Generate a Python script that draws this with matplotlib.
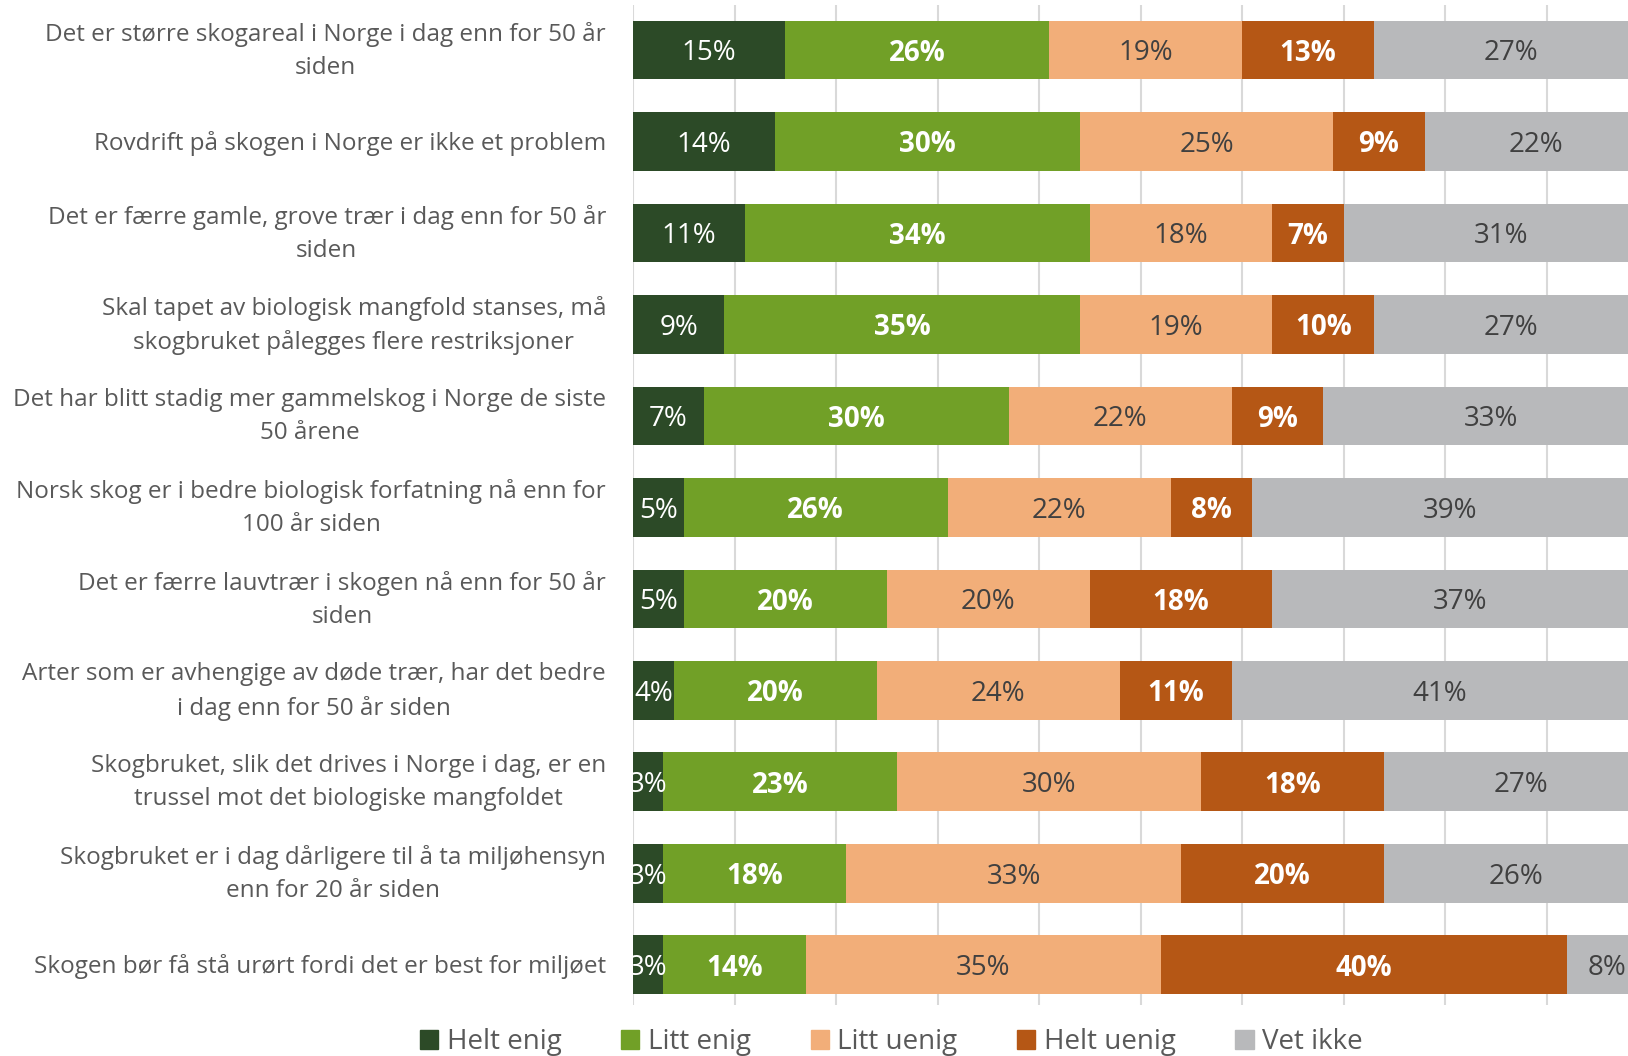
import numpy as np
import matplotlib.pyplot as plt
from matplotlib.patches import Patch
from matplotlib.transforms import ScaledTranslation

plt.rcParams['font.family'] = ['Open Sans', 'DejaVu Sans']

statements = [
    "Det er større skogareal i Norge i dag enn for 50 år\nsiden",
    "Rovdrift på skogen i Norge er ikke et problem",
    "Det er færre gamle, grove trær i dag enn for 50 år\nsiden",
    "Skal tapet av biologisk mangfold stanses, må\nskogbruket pålegges flere restriksjoner",
    "Det har blitt stadig mer gammelskog i Norge de siste\n50 årene",
    "Norsk skog er i bedre biologisk forfatning nå enn for\n100 år siden",
    "Det er færre lauvtrær i skogen nå enn for 50 år\nsiden",
    "Arter som er avhengige av døde trær, har det bedre\ni dag enn for 50 år siden",
    "Skogbruket, slik det drives i Norge i dag, er en\ntrussel mot det biologiske mangfoldet",
    "Skogbruket er i dag dårligere til å ta miljøhensyn\nenn for 20 år siden",
    "Skogen bør få stå urørt fordi det er best for miljøet",
]

answers = ["Helt enig", "Litt enig", "Litt uenig", "Helt uenig", "Vet ikke"]

helt_enig = [15, 14, 11, 9, 7, 5, 5, 4, 3, 3, 3]
litt_enig = [26, 30, 34, 35, 30, 26, 20, 20, 23, 18, 14]
litt_uenig = [19, 25, 18, 19, 22, 22, 20, 24, 30, 33, 35]
helt_uenig = [13, 9, 7, 10, 9, 8, 18, 11, 18, 20, 40]
vet_ikke = [27, 22, 31, 27, 33, 39, 37, 41, 27, 26, 8]

colors = ["#2c4a27", "#71a027", "#f2ae79", "#b55715", "#b8b9bb"]
label_colors = ["white", "white", "#404040", "white", "#404040"]
label_weights = ["normal", "bold", "normal", "bold", "normal"]

series = [helt_enig, litt_enig, litt_uenig, helt_uenig, vet_ikke]

fig = plt.figure(figsize=(16.28, 10.56), dpi=100)
# axes runs past the right edge of the figure, like the original export
ax = fig.add_axes([633 / 1628, 51 / 1056, 1015 / 1628, 1000 / 1056])

y = np.arange(len(statements))
left = np.zeros(len(statements))
for vals, col, tc, tw in zip(series, colors, label_colors, label_weights):
    vals = np.array(vals, dtype=float)
    bars = ax.barh(y, vals, left=left, height=0.64, color=col, zorder=2)
    for b, v in zip(bars, vals):
        ax.text(b.get_x() + b.get_width() / 2, b.get_y() + b.get_height() / 2,
                f"{int(v)}%", ha='center', va='center_baseline', color=tc,
                fontweight=tw, fontsize=20, zorder=3)
    left += vals

ax.set_xlim(0, 100)
ax.set_ylim(10.44, -0.49)
ax.set_xticks(np.arange(0, 101, 10))
ax.xaxis.grid(True, color="#d9d9d9", lw=1.5, zorder=0)
ax.tick_params(axis='both', length=0, labelbottom=False, labelleft=False)
ax.set_yticks(y)
for s in ax.spines.values():
    s.set_visible(False)

# statement labels, right aligned against the bars
base = ax.get_yaxis_transform()
for i, txt in enumerate(statements):
    dy = -1 / 100 if "\n" in txt else -2 / 100
    tr = base + ScaledTranslation(-27 / 100, dy, fig.dpi_scale_trans)
    ax.text(0, i, txt, transform=tr, ha='right', va='center', ma='center',
            fontsize=17.5, color="#595959", linespacing=1.5)

handles = [Patch(color=c, label=a) for c, a in zip(colors, answers)]
fig.legend(handles=handles, loc='center', bbox_to_anchor=(0.5475, 1 - 1042 / 1056),
           ncol=5, frameon=False, fontsize=20, labelcolor="#595959",
           handlelength=0.65, handleheight=0.65, handletextpad=0.3,
           columnspacing=2.16)

fig.savefig("out.png", dpi=100)
